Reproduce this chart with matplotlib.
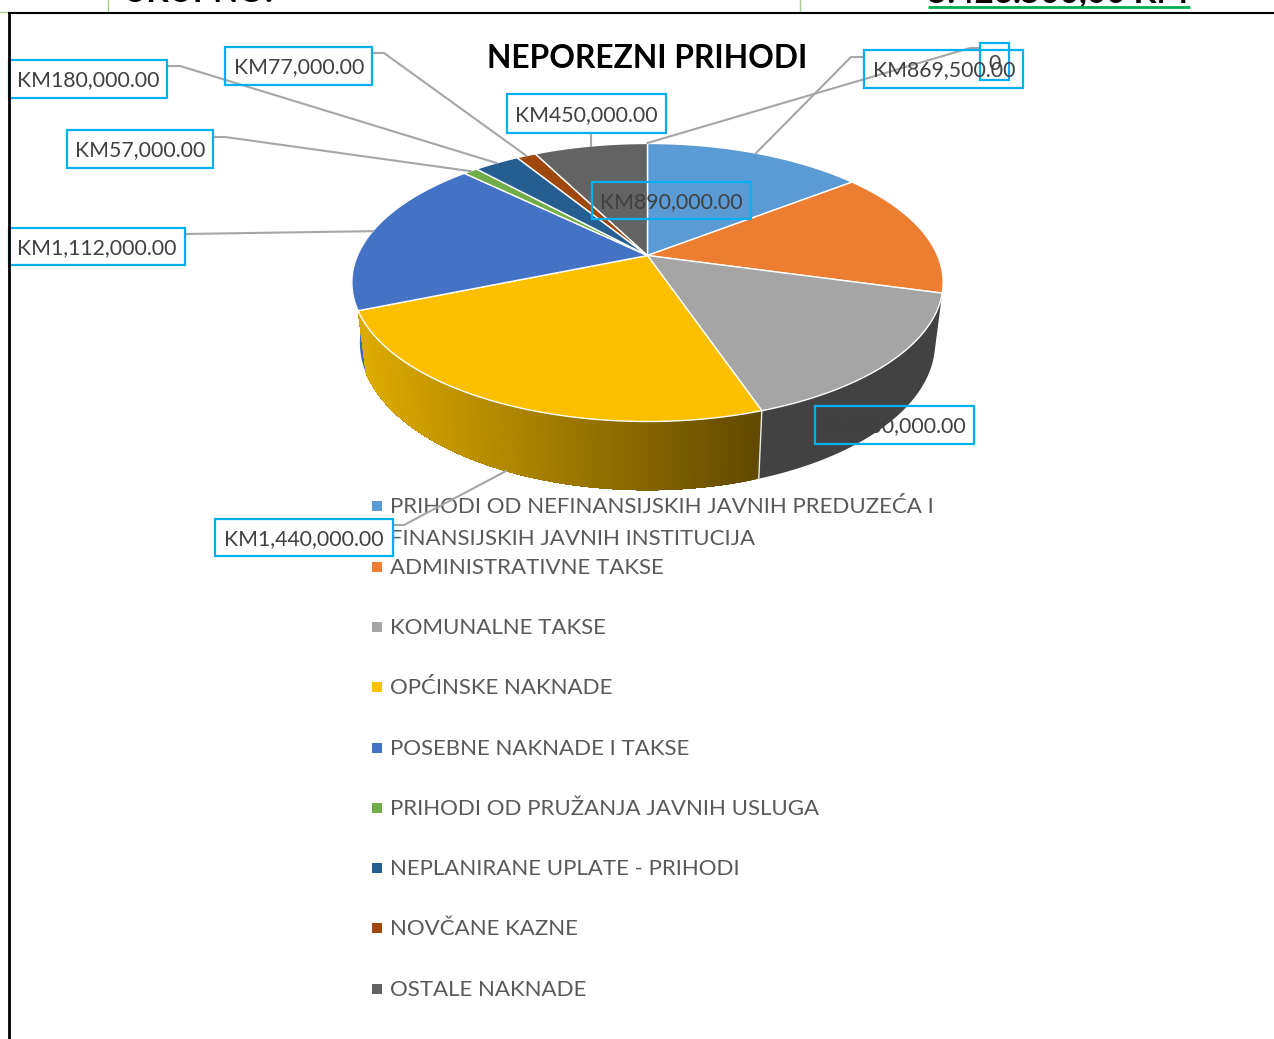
import numpy as np
import matplotlib
matplotlib.use("Agg")
import matplotlib.pyplot as plt
from matplotlib.patches import Polygon, Rectangle

title = "NEPOREZNI PRIHODI"
categories = ["PRIHODI OD NEFINANSIJSKIH JAVNIH PREDUZEĆA I\nFINANSIJSKIH JAVNIH INSTITUCIJA",
              "ADMINISTRATIVNE TAKSE", "KOMUNALNE TAKSE", "OPĆINSKE NAKNADE",
              "POSEBNE NAKNADE I TAKSE", "PRIHODI OD PRUŽANJA JAVNIH USLUGA",
              "NEPLANIRANE UPLATE - PRIHODI", "NOVČANE KAZNE", "OSTALE NAKNADE"]
values = [869500, 890000, 930000, 1440000, 1112000, 57000, 180000, 77000, 450000]
colors = ["#5B9BD5", "#ED7D31", "#A5A5A5", "#FCC000", "#4472C4", "#70AD47", "#255E91", "#9E480E", "#636363"]
side_colors = {2: "#424242", 4: "#3F69B5"}
legend_y = [507, 568, 628, 688, 749, 809, 869, 929, 990]
legend_line2_y = 539

# label boxes: x0, x1, y0, y1 in pixels
boxes = [(864, 1023, 50, 88), (592, 751, 182, 219), (815, 974, 406, 444), (215, 393, 519, 556),
         (9, 185, 228, 265), (67, 213, 130, 168), (9, 167, 60, 98), (225, 372, 47, 85), (507, 666, 94, 133)]
label_text_x = [873, 600, 823, 224, 17, 75, 17, 234, 515]

fig = plt.figure(figsize=(12.74, 10.39), dpi=100)
ax = fig.add_axes([0, 0, 1, 1])
ax.set_xlim(0, 1274)
ax.set_ylim(1039, 0)
ax.axis("off")

FONT = "Lato"
CX, CY = 647.5, 255.5
K, A, B = 0.194, 133.8, 290.0

def top(theta):
    u, v = np.sin(theta), np.cos(theta)
    d = 1 + K * v
    return CX + B * u / d, CY - A * v / d

def bottom(x, y):
    return CX + 0.973 * (np.asarray(x) - CX), 373 + 1.06 * (np.asarray(y) - 311)

vals = np.array(values, float)
edges = np.concatenate([[0], np.cumsum(vals)]) / vals.sum() * 2 * np.pi
mids = (edges[:-1] + edges[1:]) / 2

# sides (back to front)
for i in (4, 2):
    t = np.linspace(edges[i], edges[i + 1], 80)
    x, y = top(t)
    xb, yb = bottom(x, y)
    ax.add_patch(Polygon(np.r_[np.c_[x, y], np.c_[xb, yb][::-1]], fc=side_colors[i], ec="none", zorder=2))
t3 = np.linspace(edges[3], edges[4], 200)
x3, y3 = top(t3)
xb3, yb3 = bottom(x3, y3)
c0, c1 = np.array([0xDC, 0xAA, 0x00]) / 255, np.array([0x62, 0x4A, 0x00]) / 255
# strips run from the dark end; each one reaches to the far end and the next paints over it,
# which leaves no antialiased seams between neighbours
for j in range(len(t3) - 1):
    f = np.clip((x3[j] - 365) / (758 - 365), 0, 1)
    col = c0 + (c1 - c0) * f
    ax.add_patch(Polygon(np.r_[np.c_[x3[j:], y3[j:]], np.c_[xb3[j:], yb3[j:]][::-1]],
                         fc=col, ec="none", zorder=3))
# seam between yellow and grey sides
sx, sy = top(edges[3])
sxb, syb = bottom(sx, sy)
ax.plot([sx, sxb], [sy, syb], color="#E8E8E8", lw=1, zorder=4)

# top faces
for i, c in enumerate(colors):
    t = np.linspace(edges[i], edges[i + 1], 120)
    x, y = top(t)
    ax.add_patch(Polygon(np.r_[[(CX, CY)], np.c_[x, y]], fc=c, ec="white", lw=1.0, joinstyle="round", zorder=5))

# leader lines
LEAD = "#A6A6A6"
def leader(pts):
    ax.plot(*zip(*pts), color=LEAD, lw=1.5, zorder=7, solid_joinstyle="round")

leader([top(mids[0]), (851, 57), (864, 57)])
leader([bottom(*top(mids[3])), (404, 525), (393, 525)])
leader([top(mids[4]), (185, 234)])
leader([top(mids[5]), (225, 137), (213, 137)])
leader([top(mids[6]), (180, 66), (167, 66)])
leader([top(mids[7]), (384, 53), (372, 53)])
leader([top(mids[8]), (top(mids[8])[0], 133)])
leader([(CX, 143), (970, 48), (980, 48)])

# data labels
BOXC = "#00B0F0"
TXT = "#404040"
LFS = 15.3
for v, b, tx in zip(values, boxes, label_text_x):
    ax.add_patch(Rectangle((b[0], b[2]), b[1] - b[0], b[3] - b[2], fc="none", ec=BOXC, lw=1.6, zorder=8))
    ax.text(tx, (b[2] + b[3]) / 2 + 1.5, f"KM{v:,.2f}", fontsize=LFS, family=FONT, color=TXT, va="center", ha="left", zorder=9)
ax.add_patch(Rectangle((980, 43), 29, 37, fc="none", ec=BOXC, lw=1.6, zorder=8))
ax.text(994.5, 64, "0", fontsize=LFS, family=FONT, color=TXT, va="center", ha="center", zorder=9)

# title
ax.text(647, 58, title, fontsize=22.9, family=FONT, weight="bold", color="black", ha="center", va="center", zorder=9)

# legend
LEGFS = 16.05
for c, name, y in zip(colors, categories, legend_y):
    ax.add_patch(Rectangle((372, y - 6), 10, 10, fc=c, ec="none", zorder=6))
    lines = name.split("\n")
    ax.text(390.5, y, lines[0], fontsize=LEGFS, family=FONT, color="#595959", va="center", ha="left", zorder=6)
    if len(lines) > 1:
        ax.text(390.5, legend_line2_y, lines[1], fontsize=LEGFS, family=FONT, color="#595959", va="center", ha="left", zorder=6)

# page frame and cropped page text above the chart
ax.plot([9, 1274], [13, 13], color="black", lw=1.5, zorder=10)
ax.plot([9, 9], [13, 1039], color="black", lw=2, zorder=10)
for xs, ys in (([108, 108], [0, 12]), ([800, 800], [0, 12]), ([0, 9], [12, 12])):
    ax.plot(xs, ys, color="#A9D18E", lw=1, zorder=1)
ax.text(123, 2, "UKUPNO:", fontsize=23.5, family=FONT, weight="bold", color="black", ha="left", va="baseline", clip_on=True)
ax.text(928, 2, "5.426.500,00 KM", fontsize=24.0, family=FONT, weight="bold", color="black", ha="left", va="baseline", clip_on=True)
ax.plot([928, 1190], [7.3, 7.3], color="#00B050", lw=2, zorder=3, solid_capstyle="butt")

fig.savefig("out.png", dpi=100, facecolor="white")
